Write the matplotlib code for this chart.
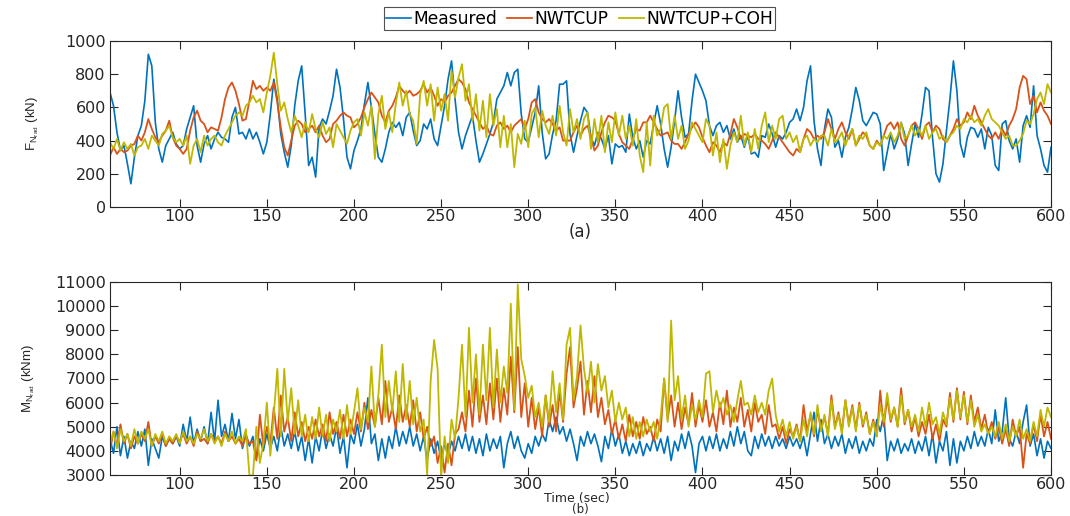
import numpy as np
import matplotlib
matplotlib.use("Agg")
import matplotlib.pyplot as plt

plt.rcParams['font.family'] = ['DejaVu Sans']
plt.rcParams['mathtext.fontset'] = 'custom'
plt.rcParams['mathtext.rm'] = 'Liberation Sans'
plt.rcParams['mathtext.it'] = 'Liberation Sans'

# time axis, sampled every 2 s
time_sec = np.arange(60, 601, 2)

series_names = ["Measured", "NWTCUP", "NWTCUP+COH"]
series_colors = ["#0072BD", "#D95319", "#BFB800"]

# (a) radial force on the nacelle, kN
force_measured = [
    690, 610, 450, 340, 370, 260, 140, 300, 430, 490, 640,
    920, 850, 510, 350, 270, 370, 410, 450, 380, 350,
    370, 470, 540, 610, 370, 270, 380, 430, 350, 410,
    450, 420, 410, 390, 540, 600, 440, 450, 410, 470,
    410, 450, 390, 320, 390, 560, 770, 650, 440, 330,
    240, 370, 610, 760, 850, 560, 250, 300, 180, 480,
    530, 500, 580, 670, 830, 720, 530, 300, 230, 340,
    400, 470, 620, 750, 600, 440, 300, 270, 350, 450,
    510, 480, 510, 430, 540, 570, 460, 370, 400, 500,
    470, 530, 410, 370, 490, 610, 770, 880, 650, 450,
    350, 430, 490, 550, 400, 270, 320, 380, 440, 510,
    650, 690, 730, 810, 730, 810, 830, 560, 410, 390,
    480, 570, 730, 450, 290, 320, 440, 520, 740, 740,
    760, 440, 330, 430, 520, 600, 570, 420, 370, 450,
    410, 350, 430, 260, 380, 360, 370, 330, 560, 420,
    350, 400, 300, 400, 380, 500, 610, 500, 350, 240,
    360, 520, 700, 540, 420, 440, 640, 800, 750, 700,
    640, 490, 430, 490, 510, 450, 490, 410, 470, 390,
    430, 360, 430, 320, 330, 300, 430, 420, 500, 440,
    360, 430, 410, 450, 510, 530, 590, 520, 600, 760,
    850, 520, 350, 250, 470, 590, 540, 360, 400, 300,
    420, 480, 590, 720, 640, 520, 490, 530, 570, 560,
    500, 220, 330, 440, 350, 410, 510, 440, 250, 380,
    500, 420, 560, 720, 700, 420, 200, 150, 260, 460,
    650, 880, 700, 380, 300, 420, 480, 470, 420, 470,
    350, 480, 430, 250, 220, 500, 520, 400, 350, 410,
    270, 490, 550, 480, 730, 430, 350, 250, 210, 360,
]
force_nwtcup = [
    310, 360, 320, 350, 330, 340, 370, 380, 430, 400, 450,
    530, 470, 420, 390, 430, 460, 520, 420, 370, 350,
    320, 350, 460, 540, 580, 520, 500, 450, 480, 470,
    460, 540, 650, 720, 750, 700, 620, 520, 530, 640,
    760, 710, 730, 700, 720, 700, 750, 630, 480, 360,
    310, 400, 490, 520, 500, 450, 470, 490, 450, 490,
    430, 390, 410, 500, 520, 550, 570, 550, 540, 480,
    500, 540, 600, 650, 690, 660, 630, 550, 510, 580,
    610, 660, 730, 700, 680, 700, 670, 680, 700, 740,
    690, 720, 670, 610, 650, 630, 670, 690, 730, 770,
    750, 710, 630, 590, 550, 510, 470, 490, 440, 430,
    490, 510, 470, 490, 450, 490, 510, 530, 470, 530,
    630, 650, 570, 530, 510, 530, 500, 460, 480, 400,
    400, 400, 450, 490, 430, 470, 490, 420, 340, 370,
    450, 510, 550, 540, 520, 440, 390, 370, 350, 410,
    470, 460, 510, 510, 550, 510, 470, 430, 440, 450,
    400, 380, 380, 350, 390, 440, 480, 510, 480, 420,
    370, 330, 390, 370, 330, 390, 370, 440, 530, 480,
    410, 440, 430, 420, 440, 410, 400, 380, 350, 400,
    450, 420, 390, 360, 330, 310, 350, 330, 410, 470,
    450, 410, 430, 410, 450, 530, 470, 410, 470, 510,
    450, 410, 470, 370, 410, 450, 430, 370, 350, 400,
    370, 430, 490, 510, 470, 510, 410, 370, 430, 490,
    510, 470, 410, 490, 510, 450, 490, 470, 410, 390,
    430, 470, 530, 490, 510, 570, 530, 610, 550, 510,
    470, 430, 410, 450, 410, 470, 430, 490, 530, 590,
    720, 790, 770, 620, 670, 570, 630, 580, 550, 500,
]
force_nwtcup_coh = [
    390, 350, 410, 340, 390, 350, 380, 310, 360, 370, 410,
    350, 430, 400, 370, 440, 460, 490, 420, 390, 410,
    370, 430, 260, 370, 410, 330, 430, 370, 410, 430,
    390, 370, 430, 470, 510, 550, 570, 550, 610, 630,
    670, 630, 650, 570, 690, 790, 930, 740, 580, 630,
    530, 450, 550, 490, 420, 510, 450, 560, 470, 420,
    510, 440, 480, 360, 500, 460, 420, 380, 460, 510,
    530, 430, 570, 490, 610, 290, 560, 670, 470, 570,
    450, 620, 750, 610, 700, 560, 520, 380, 680, 760,
    610, 740, 520, 720, 580, 680, 520, 820, 660, 780,
    860, 640, 740, 520, 680, 460, 640, 420, 680, 490,
    590, 360, 550, 360, 500, 240, 440, 380, 520, 360,
    560, 600, 420, 580, 490, 440, 550, 430, 610, 450,
    370, 590, 450, 530, 410, 530, 570, 350, 530, 390,
    550, 330, 510, 390, 570, 430, 550, 410, 490, 370,
    530, 310, 210, 510, 250, 550, 430, 470, 600, 620,
    410, 550, 410, 490, 350, 400, 510, 470, 430, 390,
    530, 490, 310, 450, 270, 410, 230, 370, 450, 390,
    550, 370, 450, 330, 470, 350, 490, 570, 390, 490,
    410, 530, 550, 410, 450, 390, 430, 330, 410, 430,
    370, 410, 390, 430, 430, 370, 470, 390, 410, 450,
    370, 430, 470, 370, 430, 410, 450, 370, 350, 390,
    370, 430, 410, 450, 390, 430, 510, 410, 430, 490,
    430, 470, 430, 490, 410, 450, 470, 410, 430, 390,
    430, 450, 490, 470, 530, 510, 550, 510, 530, 490,
    550, 590, 530, 510, 490, 450, 410, 430, 370, 370,
    400, 440, 520, 500, 560, 650, 690, 620, 740, 690,
]

# (b) radial moment on the nacelle, kNm
moment_measured = [
    4500, 3900, 5000, 3800, 4600, 3700, 4400, 4100, 4800, 4200, 4900,
    3400, 4500, 4100, 3700, 4600, 4200, 4500, 4300, 4600, 4200,
    5100, 4400, 5400, 4300, 4900, 4400, 5000, 4300, 5600, 4400,
    6100, 4600, 5100, 4400, 5550, 4500, 5300, 4100, 4700, 4200,
    4600, 3700, 4500, 4000, 4700, 4100, 4600, 4000, 5000, 4200,
    4700, 4100, 4800, 4000, 4600, 3600, 4500, 3500, 4600, 4000,
    4900, 4100, 4700, 4200, 5000, 3900, 4600, 3300, 4700, 4300,
    5100, 4200, 4900, 6200, 4300, 4700, 3600, 4500, 3700, 4600,
    4100, 5000, 4200, 4800, 4300, 5000, 4200, 4700, 4000, 4600,
    3600, 4500, 3900, 4400, 3600, 4300, 3800, 4400, 4000, 4600,
    4100, 4700, 4000, 4600, 3900, 4500, 3800, 4700, 4000, 4500,
    4100, 4600, 3300, 4300, 4800, 4100, 4600, 4000, 3700, 4300,
    3900, 4600, 4200, 4700, 4400, 5300, 4800, 5400, 4700, 5000,
    4400, 4900, 4300, 3600, 4600, 4200, 4800, 4300, 4700, 4200,
    3550, 4600, 4100, 4900, 4200, 4700, 3900, 4400, 3800, 4300,
    3900, 4400, 3800, 4300, 4000, 4600, 4000, 4500, 3900, 4600,
    3600, 4400, 4000, 4700, 4100, 4800, 4200, 3100, 4300, 4600,
    4000, 4600, 4100, 4700, 4000, 4500, 4100, 4800, 4200, 5000,
    4300, 4800, 4000, 3800, 4600, 4100, 4700, 4200, 4600, 4100,
    4600, 4200, 4500, 4100, 4600, 4200, 4500, 4100, 4600, 3800,
    4700, 5600, 4400, 5300, 4300, 4700, 4100, 4600, 4200, 4700,
    3900, 4500, 4100, 4600, 3900, 4400, 4000, 4500, 4200, 5300,
    4800, 5500, 3600, 4400, 4000, 4500, 3900, 4300, 4000, 4500,
    3900, 4400, 4000, 4600, 3800, 4700, 3500, 4400, 4000, 4800,
    3400, 4500, 3500, 4400, 4000, 4600, 4100, 4800, 4200, 4600,
    4200, 4900, 4300, 5700, 4400, 4800, 6200, 4500, 4200, 4800,
    4300, 5200, 5900, 4200, 4700, 3800, 4500, 3700, 4400, 4100,
]
moment_nwtcup = [
    4000, 4800, 4200, 5100, 4300, 4700, 4100, 4600, 4300, 4700, 4400,
    5200, 4200, 4600, 4300, 4700, 4200, 4500, 4300, 4600, 4400,
    4700, 4300, 4600, 4200, 4800, 4400, 4500, 4300, 4700, 4400,
    4600, 4300, 4800, 4400, 4600, 4300, 4500, 4200, 4600, 4300,
    4400, 3600, 5500, 4200, 5000, 4300, 5800, 4500, 6300, 4800,
    5400, 4400, 5600, 4600, 5200, 4400, 5000, 4500, 5300, 4600,
    5100, 4400, 5600, 4700, 5200, 4500, 5500, 4600, 5300, 4700,
    5600, 4800, 6000, 4900, 5700, 5000, 6200, 5100, 6900, 5200,
    5800, 4900, 6300, 5200, 5900, 5000, 6100, 4800, 5600, 4500,
    5000, 4200, 4600, 3500, 4200, 3100, 4300, 3400, 4700, 4900,
    5600, 4800, 6500, 5000, 7000, 5200, 6300, 5100, 6800, 5300,
    7000, 5200, 6600, 5500, 7900, 5600, 8300, 5400, 6800, 5000,
    6200, 4900, 5800, 4600, 6300, 5000, 5900, 4800, 6500, 5200,
    7200, 8300, 5800, 6600, 7700, 5500, 6900, 5600, 7100, 5400,
    6200, 5100, 5700, 4700, 5300, 4500, 5100, 4400, 5500, 4600,
    5200, 4500, 5400, 4700, 5000, 4400, 5300, 4800, 7000, 5300,
    6300, 5000, 6000, 4900, 5800, 5100, 6400, 5000, 5900, 5200,
    6100, 5000, 5600, 4800, 6000, 5100, 6500, 5000, 5800, 5200,
    6200, 5000, 5700, 4800, 6000, 5200, 5500, 4700, 5900, 5000,
    5100, 4500, 5000, 4300, 4900, 4600, 5100, 4400, 5900, 4800,
    5500, 4600, 5700, 4900, 5400, 4700, 6300, 5000, 5600, 4800,
    6100, 5100, 5900, 4900, 6000, 5000, 5600, 4700, 5300, 4600,
    6500, 5000, 6200, 5200, 5800, 5000, 6600, 5100, 5700, 4800,
    5400, 4600, 5200, 4700, 5500, 4500, 5100, 4400, 5300, 5000,
    6400, 5200, 6600, 5300, 6450, 5100, 6300, 5200, 5800, 4900,
    5500, 4700, 5200, 4500, 5000, 4300, 4900, 4200, 5300, 4600,
    5000, 3300, 4700, 4300, 5100, 4400, 5500, 4600, 5200, 4500,
]
moment_nwtcup_coh = [
    4300, 4800, 4100, 4900, 4400, 4700, 4200, 4900, 4300, 4800, 4500,
    4900, 4200, 4700, 4400, 4800, 4300, 4600, 4400, 4700, 4300,
    4800, 4400, 4600, 4300, 4700, 4500, 4900, 4400, 4700, 4300,
    4600, 4200, 4700, 4400, 4800, 4300, 4600, 4400, 4900, 3000,
    2950, 5000, 3500, 4300, 6000, 3800, 5500, 7400, 4600, 7400,
    5200, 6600, 4700, 6100, 4600, 5500, 4400, 5400, 4500, 5800,
    4600, 5500, 4400, 5300, 4800, 5700, 4500, 5900, 4700, 5600,
    6600, 4900, 5800, 5200, 7500, 5000, 6300, 8400, 5400, 6900,
    5600, 7300, 5200, 7600, 5300, 6900, 5100, 6200, 4800, 5300,
    3000, 6900, 8600, 7400, 2950, 4600, 3500, 5300, 4500, 6200,
    8400, 5400, 9100, 6000, 8000, 5500, 8400, 6100, 9100, 5800,
    8200, 6000, 7500, 6400, 10100, 5700, 10900, 7800, 7100, 6200,
    6700, 5400, 6000, 5000, 6300, 5200, 7300, 5600, 6800, 5300,
    8400, 9100, 6100, 7100, 9200, 7400, 6400, 7700, 6000, 7600,
    6500, 7100, 5800, 6500, 5200, 6000, 5300, 5800, 4600, 5400,
    4500, 5200, 4600, 5300, 4800, 5200, 4500, 5400, 7000, 5200,
    9400, 6100, 7100, 5300, 6300, 5000, 5900, 5300, 6100, 5400,
    7200, 7300, 5600, 6500, 5800, 6200, 5500, 5900, 5200, 6100,
    6900, 5900, 6000, 5500, 6300, 5600, 6000, 5500, 6500, 7000,
    5500, 4800, 5300, 4600, 5200, 4500, 5000, 4400, 5300, 4600,
    5600, 4700, 5900, 4800, 5500, 4600, 6100, 4900, 5500, 4700,
    6100, 5000, 5800, 4800, 5900, 5100, 5500, 4700, 5200, 4600,
    5900, 5200, 6400, 5300, 5800, 5000, 6300, 5200, 5700, 5000,
    5500, 4800, 5800, 5000, 6000, 5100, 5400, 4700, 5600, 5100,
    6200, 5300, 6500, 5400, 6300, 5200, 6100, 5000, 5500, 4800,
    5100, 4700, 5000, 4600, 5200, 4500, 5100, 4400, 5000, 4600,
    5300, 4500, 4900, 4400, 5200, 4600, 5700, 5000, 5800, 5400,
]

W, H = 1070, 516
fig = plt.figure(figsize=(W / 100, H / 100), dpi=100)
ax_f = fig.add_axes([110 / W, 1 - 207 / H, 941 / W, 166 / H])
ax_m = fig.add_axes([110 / W, 1 - 475 / H, 941 / W, 193 / H])

axis_color = "#262626"
line_widths = [1.2, 1.3, 1.3]
lines = []
for ax, data in ((ax_f, (force_measured, force_nwtcup, force_nwtcup_coh)),
                 (ax_m, (moment_measured, moment_nwtcup, moment_nwtcup_coh))):
    handles = []
    for values, name, color, lw in zip(data, series_names, series_colors, line_widths):
        h, = ax.plot(time_sec, values, color=color, lw=lw, label=name)
        handles.append(h)
    lines.append(handles)
    ax.set_xlim(60, 600)
    ax.set_xticks(np.arange(100, 601, 50))
    ax.tick_params(direction="in", length=6, width=0.8, top=True, right=True,
                   labelsize=11.5, colors=axis_color)
    ax.tick_params(axis="x", pad=1.5)
    ax.tick_params(axis="y", pad=3)
    for s in ax.spines.values():
        s.set_color(axis_color)
        s.set_linewidth(0.8)

ax_f.set_ylim(0, 1000)
ax_f.set_yticks(np.arange(0, 1001, 200))
ax_m.set_ylim(3000, 11000)
ax_m.set_yticks(np.arange(3000, 11001, 1000))

label_font = ['Liberation Sans', 'DejaVu Sans']
ax_f.set_ylabel(r"F$_{\mathregular{N_{rad}}}$ (kN)", fontsize=9.5, color=axis_color,
                family=label_font)
ax_m.set_ylabel(r"M$_{\mathregular{N_{rad}}}$ (kNm)", fontsize=9.5, color=axis_color,
                family=label_font)
ax_f.yaxis.set_label_coords((41 - 110) / 941, 0.5)
ax_m.yaxis.set_label_coords((37 - 110) / 941, 0.5)

fig.text(580.5 / W, 1 - 232 / H, "(a)", ha="center", va="center", fontsize=12, color=axis_color)
fig.text(577 / W, 1 - 498.5 / H, "Time (sec)", ha="center", va="center", fontsize=9, color=axis_color)
fig.text(580 / W, 1 - 510 / H, "(b)", ha="center", va="center", fontsize=8.5, color=axis_color)

leg = fig.legend(lines[0], series_names, loc="center", ncol=3,
                 bbox_to_anchor=(579.5 / W, 1 - 18.5 / H), fontsize=12.3,
                 frameon=True, fancybox=False, edgecolor=axis_color,
                 handlelength=1.45, handletextpad=0.15, columnspacing=0.6,
                 borderpad=0.12, borderaxespad=0)
leg.get_frame().set_linewidth(0.8)
for t in leg.get_texts():
    t.set_color("black")

fig.savefig("out.png", dpi=100)
